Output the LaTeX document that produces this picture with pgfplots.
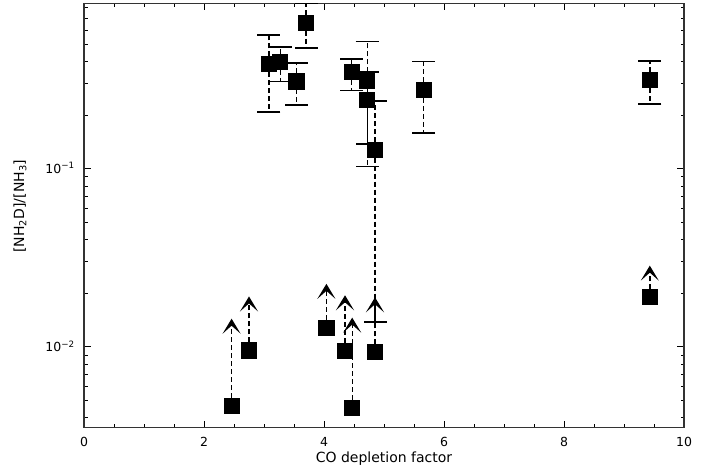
\documentclass[border=0pt]{standalone}
\usepackage{pgfplots}
\pgfplotsset{compat=1.18}
\usepackage{pgfplotstable}
\usepackage{fontspec}
\setmainfont{DejaVu Sans}
\usetikzlibrary{arrows.meta}

\pgfplotstableread{
x    y      ep     em
3.70 0.661  0.19   0.186
3.08 0.386  0.178  0.177
3.27 0.398  0.087  0.089
3.54 0.309  0.083  0.082
4.46 0.348  0.066  0.073
4.72 0.313  0.205  0.210
4.72 0.244  0.107  0.106
4.85 0.128  0.113  0.1142
5.66 0.277  0.123  0.119
9.43 0.315  0.089  0.083
}\detections

\pgfplotstableread{
x    y
2.46 0.00465
2.75 0.00957
4.04 0.0128
4.35 0.00953
4.47 0.00455
4.85 0.00933
9.43 0.0190
}\lowerlimits

\tikzset{limarrow/.style={black, line width=1.4pt, dash pattern=on 5pt off 3pt,
  -{Stealth[length=15pt,width=18pt,inset=8pt]}}}

\begin{document}
\begin{tikzpicture}
\useasboundingbox (0,0) rectangle (718pt,470pt);
\begin{axis}[
  at={(84pt,42.3pt)}, anchor=south west,
  width=600pt, height=424.4pt, scale only axis,
  xmin=0, xmax=10,
  ymode=log, ymin=0.00352, ymax=0.849,
  xtick={0,2,4,6,8,10}, xticklabels={0,2,4,6,8,10}, minor x tick num=3,
  ytick={0.01,0.1},
  yticklabels={10\textsuperscript{−2},10\textsuperscript{−1}},
  minor ytick={0.004,0.005,0.006,0.007,0.008,0.009,0.02,0.03,0.04,0.05,0.06,0.07,0.08,0.09,0.2,0.3,0.4,0.5,0.6,0.7,0.8},
  tick align=inside,
  major tick length=7pt, minor tick length=3.5pt,
  axis line style={line width=1.2pt, black!80},
  every tick/.style={black, line width=0.9pt},
  tick label style={font=\fontsize{12.5}{14}\selectfont, inner sep=0pt},
  xticklabel style={anchor=base, yshift=-18.8pt},
  yticklabel style={anchor=base east, xshift=-9pt, yshift=-4.5pt},
  xlabel={CO depletion factor},
  ylabel={[NH\textsubscript{2}D]/[NH\textsubscript{3}]},
  label style={font=\fontsize{14}{16}\selectfont, inner sep=0pt},
  xlabel style={at={(axis description cs:0.5,-0.082)}, anchor=base},
  ylabel style={at={(axis description cs:-0.1067,0.522)}, anchor=center},
  clip=true,
]
\addplot[limarrow] coordinates {(2.46,0.00465) (2.46,0.0144)};
\addplot[limarrow] coordinates {(2.75,0.00957) (2.75,0.0192)};
\addplot[limarrow] coordinates {(4.04,0.0128) (4.04,0.0226)};
\addplot[limarrow] coordinates {(4.35,0.00953) (4.35,0.0195)};
\addplot[limarrow] coordinates {(4.47,0.00455) (4.47,0.0146)};
\addplot[limarrow] coordinates {(4.85,0.00933) (4.85,0.0190)};
\addplot[limarrow] coordinates {(9.43,0.0190) (9.43,0.0286)};

\addplot[black, only marks, mark=none,
  error bars/.cd, y dir=both, y explicit,
  error bar style={line width=1.4pt, dash pattern=on 5pt off 3pt},
  error mark options={solid, rotate=90, line width=1.8pt, mark size=11.5pt}]
  table[x=x, y=y, y error plus=ep, y error minus=em] {\detections};

\addplot[black, only marks, mark=square*, mark size=7.6pt,
  mark options={solid, line width=0.8pt}]
  table[x=x, y=y] {\detections};
\addplot[black, only marks, mark=square*, mark size=7.6pt,
  mark options={solid, line width=0.8pt}]
  table[x=x, y=y] {\lowerlimits};
\end{axis}
\end{tikzpicture}
\end{document}
